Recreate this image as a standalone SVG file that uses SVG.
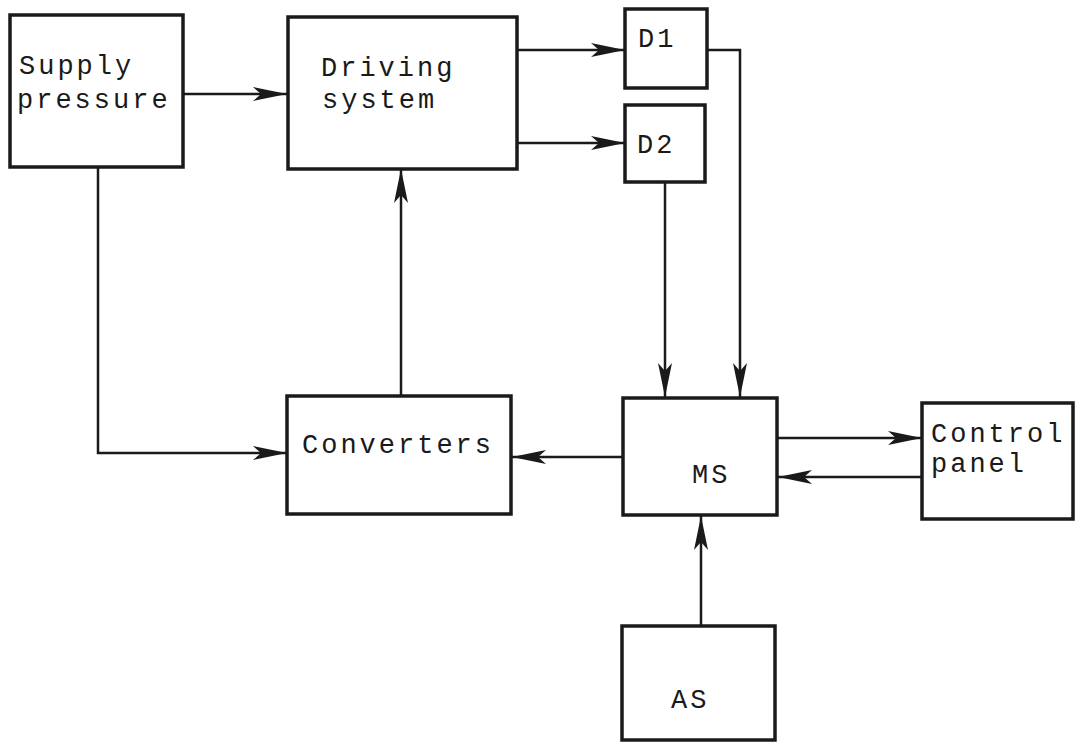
<svg xmlns="http://www.w3.org/2000/svg" width="1075" height="742" viewBox="0 0 1075 742">
<style>
.box{fill:none;stroke:#1a1a1a;stroke-width:3.5}
.lbl{font-family:"Liberation Mono","DejaVu Sans Mono",monospace;font-size:27px;letter-spacing:3px;fill:#1a1a1a}
.con{fill:none;stroke:#1a1a1a;stroke-width:2.5}
</style>
<defs>
<marker id="ah" markerUnits="userSpaceOnUse" markerWidth="36" markerHeight="16" refX="34" refY="8" orient="auto">
<path d="M0,1 L34,8 L0,15 L8,8 Z" fill="#1a1a1a"/>
</marker>
</defs>
<rect width="1075" height="742" fill="#ffffff"/>
<g id="connectors">
<line class="con" x1="183" y1="94" x2="287" y2="94" marker-end="url(#ah)"/>
<line class="con" x1="517" y1="50" x2="625" y2="50" marker-end="url(#ah)"/>
<line class="con" x1="517" y1="143" x2="625" y2="143" marker-end="url(#ah)"/>
<polyline class="con" points="707,50 740,50 740,397" marker-end="url(#ah)"/>
<line class="con" x1="665" y1="182" x2="665" y2="397" marker-end="url(#ah)"/>
<line class="con" x1="401" y1="396" x2="401" y2="169" marker-end="url(#ah)"/>
<polyline class="con" points="98,167 98,453 287,453" marker-end="url(#ah)"/>
<line class="con" x1="623" y1="457" x2="512" y2="457" marker-end="url(#ah)"/>
<line class="con" x1="777" y1="438" x2="922" y2="438" marker-end="url(#ah)"/>
<line class="con" x1="922" y1="477" x2="778" y2="477" marker-end="url(#ah)"/>
<line class="con" x1="701" y1="626" x2="701" y2="516" marker-end="url(#ah)"/>
</g>
<g id="supply">
<rect class="box" x="10" y="15" width="173" height="152"/>
<text class="lbl" x="19" y="74">Supply</text>
<text class="lbl" x="17" y="108">pressure</text>
</g>
<g id="driving">
<rect class="box" x="288" y="17" width="229" height="152"/>
<text class="lbl" x="321" y="76">Driving</text>
<text class="lbl" x="322" y="108">system</text>
</g>
<g id="d1">
<rect class="box" x="625" y="9" width="82" height="79"/>
<text class="lbl" x="638" y="47">D1</text>
</g>
<g id="d2">
<rect class="box" x="625" y="105" width="80" height="77"/>
<text class="lbl" x="637" y="153">D2</text>
</g>
<g id="converters">
<rect class="box" x="287" y="396" width="224" height="118"/>
<text class="lbl" x="302" y="453">Converters</text>
</g>
<g id="ms">
<rect class="box" x="623" y="398" width="154" height="117"/>
<text class="lbl" x="692" y="483">MS</text>
</g>
<g id="control">
<rect class="box" x="922" y="403" width="151" height="116"/>
<text class="lbl" x="931" y="442">Control</text>
<text class="lbl" x="931" y="472">panel</text>
</g>
<g id="as">
<rect class="box" x="622" y="626" width="153" height="114"/>
<text class="lbl" x="671" y="708">AS</text>
</g>
</svg>
